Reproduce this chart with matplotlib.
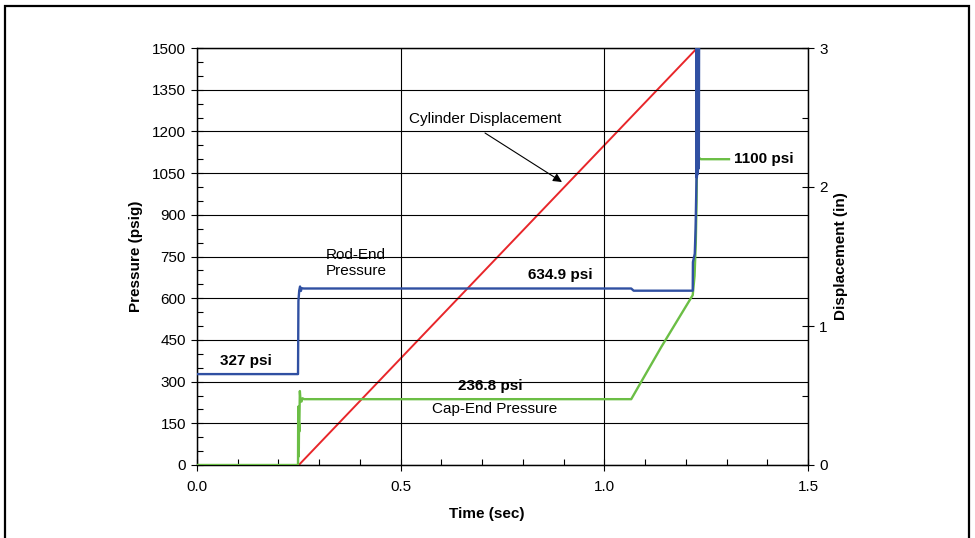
import matplotlib
matplotlib.use("Agg")
import matplotlib.pyplot as plt
from matplotlib.patches import Rectangle
from matplotlib.ticker import MultipleLocator, FormatStrFormatter

plt.rcParams['font.family'] = ['Liberation Sans', 'DejaVu Sans']
plt.rcParams['font.size'] = 11

# Rod-end pressure (psig)
rod_t = [0.0, 0.248, 0.249, 0.251, 0.253, 0.255, 0.257, 0.262, 1.066, 1.072, 1.217, 1.2175,
         1.222, 1.224, 1.2262, 1.2266, 1.2272, 1.2278, 1.2284, 1.2290, 1.2296, 1.2302, 1.2308,
         1.2314, 1.2320, 1.2326]
rod_p = [327, 327, 590, 628, 642, 626, 636, 634.9, 634.9, 627, 627, 730,
         760, 850, 1025, 1515, 1035, 1515, 1045, 1515, 1055, 1515, 1065,
         1515, 1080, 1510]

# Cap-end pressure (psig)
cap_t = [0.0, 0.248, 0.2485, 0.249, 0.2495, 0.250, 0.2505, 0.251, 0.2525, 0.254, 0.2565, 0.259, 0.263,
         1.066, 1.14, 1.217, 1.2215, 1.2245, 1.2265, 1.2275, 1.2285, 1.2295, 1.2310, 1.233, 1.237, 1.306]
cap_p = [0, 0, 210, 30, 200, 60, 150, 120, 266, 235, 228, 240, 236.8,
         236.8, 425, 611, 680, 800, 950, 1115, 1085, 1112, 1092, 1104, 1100, 1100]

# Cylinder displacement (in)
disp_t = [0.0, 0.25, 1.228, 1.306]
disp_d = [0.0, 0.0, 3.0, 3.0]

W, H = 975, 538
fig = plt.figure(figsize=(W / 100, H / 100), dpi=100)
x0, x1, y0, y1 = 197, 808, 48, 465
ax = fig.add_axes([x0 / W, 1 - y1 / H, (x1 - x0) / W, (y1 - y0) / H])
ax2 = ax.twinx()

blue = '#3050A2'
green = '#6BBE45'
red = '#E8262A'

ax.plot(rod_t, rod_p, color=blue, lw=1.7, zorder=4)
ax.plot(cap_t, cap_p, color=green, lw=1.7, zorder=3)
ax2.plot(disp_t, disp_d, color=red, lw=1.4, zorder=2)

ax.set_xlim(0, 1.5)
ax.set_ylim(0, 1500)
ax2.set_ylim(0, 3)
ax.set_zorder(ax2.get_zorder() + 1)
ax.patch.set_visible(False)

ax.xaxis.set_major_locator(MultipleLocator(0.5))
ax.xaxis.set_minor_locator(MultipleLocator(0.1))
ax.yaxis.set_major_locator(MultipleLocator(150))
ax.yaxis.set_minor_locator(MultipleLocator(50))
ax2.yaxis.set_major_locator(MultipleLocator(1))
ax2.yaxis.set_minor_locator(MultipleLocator(0.5))
ax.xaxis.set_major_formatter(FormatStrFormatter('%.1f'))

ax.grid(True, which='major', color='black', lw=0.8)
for a in (ax, ax2):
    a.tick_params(which='major', direction='inout', length=8, width=0.8, labelsize=11, colors='black')
    a.tick_params(which='minor', direction='in', length=4, width=0.8)
    for s in a.spines.values():
        s.set_linewidth(0.9)
ax.tick_params(axis='x', which='major', pad=7)
ax.tick_params(axis='y', which='major', pad=4)
ax2.tick_params(axis='y', which='major', pad=4)

ax.set_xlabel('Time (sec)', fontweight='bold', fontsize=11)
ax.set_ylabel('Pressure (psig)', fontweight='bold', fontsize=11)
ax2.set_ylabel('Displacement (in)', fontweight='bold', fontsize=11)
ax.xaxis.set_label_coords((487 - x0) / (x1 - x0), (y1 - 507) / (y1 - y0))
ax.yaxis.set_label_coords((143 - x0) / (x1 - x0), 0.5)
ax2.yaxis.set_label_coords((834 - x0) / (x1 - x0), 0.5)

def tx(px):
    return (px - x0) / (x1 - x0) * 1.5

def py(pix):
    return (y1 - pix) / (y1 - y0) * 1500

# Annotations
ax.text(tx(246), py(361), '327 psi', fontweight='bold', ha='center', va='center')
ax.text(tx(560), py(275), '634.9 psi', fontweight='bold', ha='center', va='center')
ax.text(tx(490), py(386), '236.8 psi', fontweight='bold', ha='center', va='center')
ax.text(tx(495), py(409), 'Cap-End Pressure', ha='center', va='center')
ax.text(tx(734), py(159), '1100 psi', fontweight='bold', ha='left', va='center')
ax.text(tx(356), py(263), 'Rod-End\nPressure', ha='center', va='center', linespacing=1.15)
ax.text(tx(485), py(119), 'Cylinder Displacement', ha='center', va='center')
ax.annotate('', xy=(tx(562), py(182)), xytext=(tx(485), py(133)),
            arrowprops=dict(arrowstyle='-|>', color='black', lw=0.8,
                            shrinkA=0, shrinkB=0, mutation_scale=13))

fig.add_artist(Rectangle((5 / W, -0.1), 964 / W, 1.1 - 6 / H, transform=fig.transFigure,
                         fill=False, lw=1.6, edgecolor='black'))

fig.savefig('out.png', dpi=100)
